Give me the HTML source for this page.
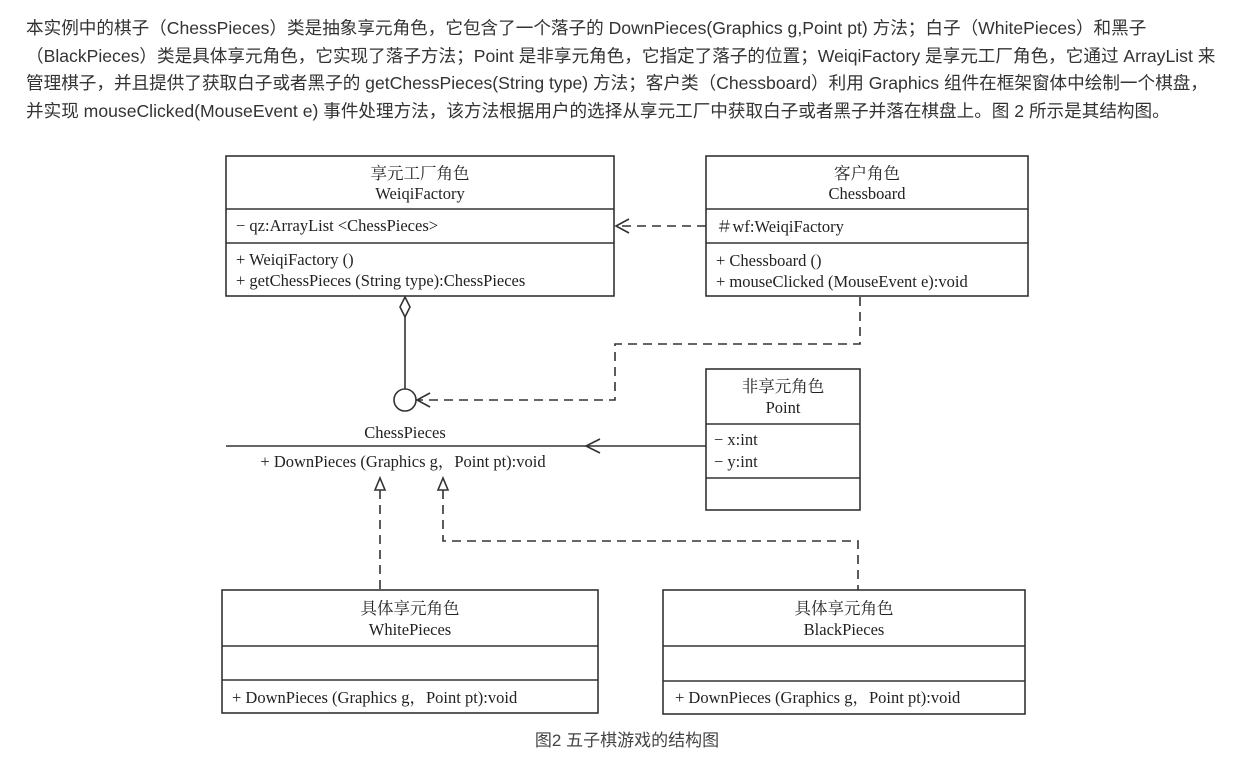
<!DOCTYPE html>
<html><head><meta charset="utf-8"><style>
html,body{margin:0;padding:0;background:#fff;width:1243px;height:759px;overflow:hidden}
.p{position:absolute;left:26px;top:15px;width:1215px;font:17.6px/27.6px "Liberation Sans","Noto Sans CJK SC",sans-serif;color:#333;white-space:nowrap}
svg{position:absolute;left:0;top:0}
svg text{font-family:"Liberation Serif","Noto Serif CJK SC",serif;font-size:16.5px;fill:#222}
</style></head><body>
<div class="p">本实例中的棋子（ChessPieces）类是抽象享元角色，它包含了一个落子的 DownPieces(Graphics g,Point pt) 方法；白子（WhitePieces）和黑子<br>（BlackPieces）类是具体享元角色，它实现了落子方法；Point 是非享元角色，它指定了落子的位置；WeiqiFactory 是享元工厂角色，它通过 ArrayList 来<br>管理棋子，并且提供了获取白子或者黑子的 getChessPieces(String type) 方法；客户类（Chessboard）利用 Graphics 组件在框架窗体中绘制一个棋盘，<br>并实现 mouseClicked(MouseEvent e) 事件处理方法，该方法根据用户的选择从享元工厂中获取白子或者黑子并落在棋盘上。图 2 所示是其结构图。</div>
<svg width="1243" height="759" stroke="#333" stroke-width="1.6" fill="none">
<rect x="226" y="156" width="388" height="140"/>
<line x1="226" y1="209" x2="614" y2="209"/><line x1="226" y1="243" x2="614" y2="243"/>
<rect x="706" y="156" width="322" height="140"/>
<line x1="706" y1="209" x2="1028" y2="209"/><line x1="706" y1="243" x2="1028" y2="243"/>
<rect x="706" y="369" width="154" height="141"/>
<line x1="706" y1="424" x2="860" y2="424"/><line x1="706" y1="478" x2="860" y2="478"/>
<rect x="222" y="590" width="376" height="123"/>
<line x1="222" y1="646" x2="598" y2="646"/><line x1="222" y1="680" x2="598" y2="680"/>
<rect x="663" y="590" width="362" height="124"/>
<line x1="663" y1="646" x2="1025" y2="646"/><line x1="663" y1="681" x2="1025" y2="681"/>
<line x1="226" y1="446" x2="706" y2="446"/>
<polyline points="600,439 586,446 600,453"/>
<circle cx="405" cy="400" r="11"/>
<polygon points="405,297 410,307 405,317 400,307"/>
<line x1="405" y1="317" x2="405" y2="389"/>
<g stroke-dasharray="9,6">
<line x1="706" y1="226" x2="618" y2="226"/>
<polyline points="860,297 860,344 615,344 615,400 418,400"/>
<line x1="380" y1="490" x2="380" y2="590"/>
<polyline points="443,490 443,541 858,541 858,590"/>
</g>
<polyline points="629,219 616,226 629,233"/>
<polyline points="430,393 417,400 430,407"/>
<polygon points="380,478 375,490 385,490"/>
<polygon points="443,478 438,490 448,490"/>
<g stroke="none" text-anchor="middle">
<text x="420" y="179">享元工厂角色</text><text x="420" y="199">WeiqiFactory</text>
<text x="867" y="179">客户角色</text><text x="867" y="199">Chessboard</text>
<text x="783" y="392">非享元角色</text><text x="783" y="413">Point</text>
<text x="405" y="438">ChessPieces</text>
<text x="403" y="467">+ DownPieces (Graphics g，Point pt):void</text>
<text x="410" y="614">具体享元角色</text><text x="410" y="635">WhitePieces</text>
<text x="844" y="614">具体享元角色</text><text x="844" y="635">BlackPieces</text>
</g>
<g stroke="none">
<text x="236" y="231">− qz:ArrayList &lt;ChessPieces&gt;</text>
<text x="236" y="265">+ WeiqiFactory ()</text>
<text x="236" y="286">+ getChessPieces (String type):ChessPieces</text>
<text x="716" y="232">＃wf:WeiqiFactory</text>
<text x="716" y="266">+ Chessboard ()</text>
<text x="716" y="287">+ mouseClicked (MouseEvent e):void</text>
<text x="714" y="445">− x:int</text>
<text x="714" y="467">− y:int</text>
<text x="232" y="703">+ DownPieces (Graphics g，Point pt):void</text>
<text x="675" y="703">+ DownPieces (Graphics g，Point pt):void</text>
</g>
<text x="627" y="746" stroke="none" text-anchor="middle" style="font-family:'Liberation Sans','Noto Sans CJK SC',sans-serif;font-size:17px;fill:#444">图2 五子棋游戏的结构图</text>
</svg>
</body></html>
